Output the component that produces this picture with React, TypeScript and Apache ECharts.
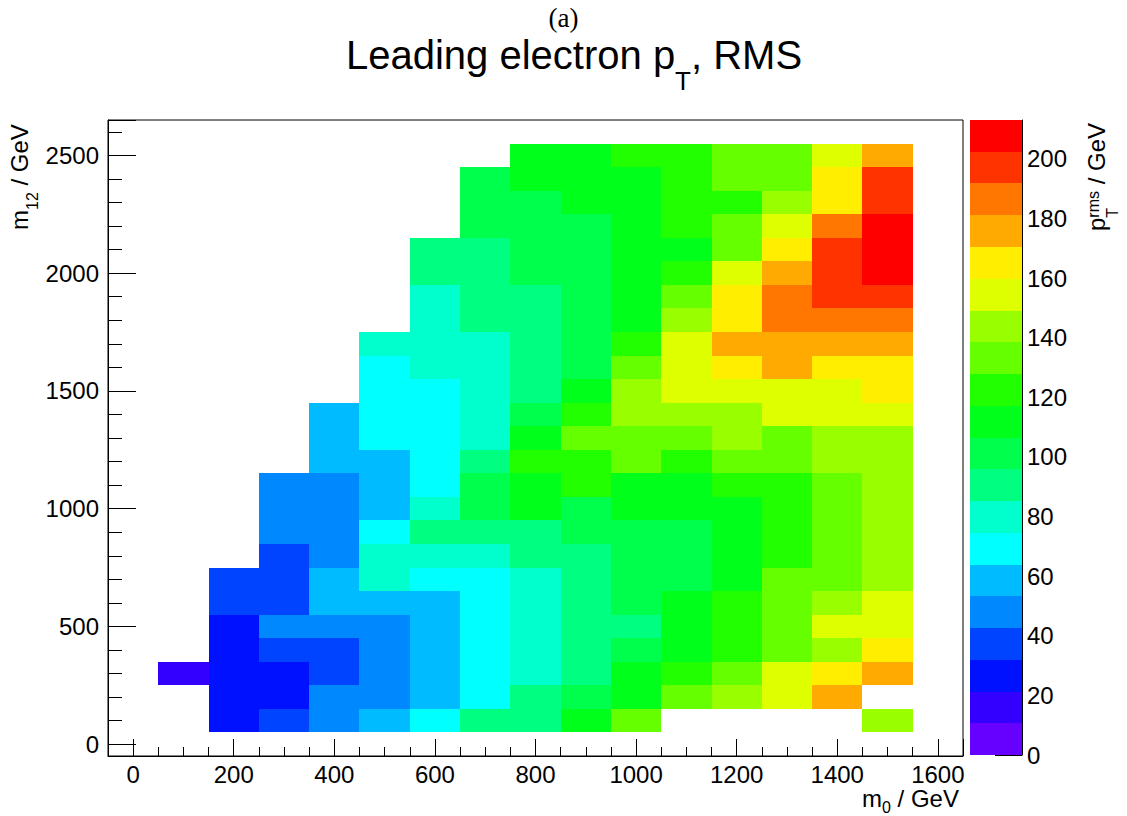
import React, { useEffect, useRef } from 'react';
import * as echarts from 'echarts';

// ---- data ----
// bin centres
const m0Centers = [100, 200, 300, 400, 500, 600, 700, 800, 900, 1000, 1100, 1200, 1300, 1400, 1500];
const m12Centers = [100, 200, 300, 400, 500, 600, 700, 800, 900, 1000, 1100, 1200, 1300, 1400, 1500, 1600, 1700, 1800, 1900, 2000, 2100, 2200, 2300, 2400, 2500];
const BIN_M0 = 100;
const BIN_M12 = 100;

// leading electron pT RMS [GeV]; one row per m12 bin (bottom -> top), one entry per m0 bin
const rms100 = [null, 27, 38, 47, 58, 70, 91, 89, 113, 134, null, null, null, null, 143];
const rms200 = [null, 26, 29, 49, 51, 60, 68, 92, 102, 110, 132, 145, 155, 177, null];
const rms300 = [15, 25, 28, 39, 50, 57, 71, 81, 88, 114, 123, 135, 153, 166, 175];
const rms400 = [null, 24, 36, 40, 47, 61, 67, 79, 90, 100, 111, 121, 131, 146, 164];
const rms500 = [null, 28, 46, 49, 52, 58, 70, 78, 93, 87, 115, 125, 136, 152, 157];
const rms600 = [null, 34, 38, 56, 60, 62, 72, 82, 89, 104, 109, 120, 130, 141, 158];
const rms700 = [null, 36, 41, 55, 77, 66, 73, 84, 91, 99, 103, 116, 134, 137, 147];
const rms800 = [null, null, 39, 45, 76, 79, 83, 94, 86, 98, 105, 113, 119, 129, 142];
const rms900 = [null, null, 44, 50, 68, 92, 88, 95, 97, 104, 101, 110, 124, 132, 144];
const rms1000 = [null, null, 47, 52, 62, 81, 100, 108, 103, 116, 112, 114, 126, 133, 148];
const rms1100 = [null, null, 45, 51, 57, 73, 102, 111, 118, 108, 113, 121, 123, 135, 146];
const rms1200 = [null, null, null, 55, 60, 69, 90, 126, 120, 130, 125, 137, 135, 140, 143];
const rms1300 = [null, null, null, 59, 67, 70, 78, 110, 131, 133, 129, 142, 134, 145, 147];
const rms1400 = [null, null, null, 61, 71, 65, 82, 99, 119, 142, 145, 147, 152, 156, 158];
const rms1500 = [null, null, null, null, 72, 70, 80, 93, 114, 148, 151, 155, 159, 153, 163];
const rms1600 = [null, null, null, null, 66, 77, 82, 87, 105, 131, 157, 161, 172, 167, 169];
const rms1700 = [null, null, null, null, 79, 83, 76, 92, 99, 125, 152, 178, 174, 180, 179];
const rms1800 = [null, null, null, null, null, 80, 86, 94, 100, 109, 143, 162, 183, 188, 190];
const rms1900 = [null, null, null, null, null, 84, 89, 91, 98, 115, 136, 168, 185, 193, 199];
const rms2000 = [null, null, null, null, null, 88, 92, 97, 103, 112, 122, 156, 173, 196, 211];
const rms2100 = [null, null, null, null, null, 93, 90, 101, 105, 116, 110, 132, 163, 198, 209];
const rms2200 = [null, null, null, null, null, null, 99, 104, 102, 114, 124, 136, 154, 187, 206];
const rms2300 = [null, null, null, null, null, null, 101, 100, 111, 109, 119, 123, 141, 166, 200];
const rms2400 = [null, null, null, null, null, null, 103, 112, 113, 115, 124, 134, 130, 169, 194];
const rms2500 = [null, null, null, null, null, null, null, 110, 114, 118, 121, 131, 137, 157, 174];

const rmsRows: (number | null)[][] = [
  rms100, rms200, rms300, rms400, rms500, rms600, rms700, rms800, rms900, rms1000,
  rms1100, rms1200, rms1300, rms1400, rms1500, rms1600, rms1700, rms1800, rms1900, rms2000,
  rms2100, rms2200, rms2300, rms2400, rms2500,
];

// colour scale
const Z_MIN = 0;
const Z_MAX = 213;
const paletteColors = [
  '#6600ff', '#3300ff', '#0011ff', '#0044ff', '#0088ff', '#00bbff', '#00ffff', '#00ffcc', '#00ff80', '#00ff4d',
  '#00ff1a', '#22ff00', '#66ff00', '#99ff00', '#ddff00', '#ffee00', '#ffaa00', '#ff7700', '#ff3300', '#ff0000',
];
const zTickValues = [0, 20, 40, 60, 80, 100, 120, 140, 160, 180, 200];

const FONT = '"Liberation Sans", Arial, Helvetica, sans-serif';
const SERIF = '"Liberation Serif", "DejaVu Serif", serif';

function txt(text: string, x: number, y: number, size: number, family = FONT): any {
  return {
    type: 'text',
    x,
    y,
    style: {
      text,
      fontSize: size,
      fontFamily: family,
      fill: '#000',
      align: 'left',
      verticalAlign: 'middle',
      textAlign: 'left',
      textVerticalAlign: 'middle',
    },
  };
}

function snapRect(p0: number[], p1: number[]) {
  const x0 = Math.round(Math.min(p0[0], p1[0]));
  const x1 = Math.round(Math.max(p0[0], p1[0]));
  const y0 = Math.round(Math.min(p0[1], p1[1]));
  const y1 = Math.round(Math.max(p0[1], p1[1]));
  return { x: x0, y: y0, width: x1 - x0, height: y1 - y0 };
}

export default function App() {
  const ref = useRef<HTMLDivElement>(null);

  useEffect(() => {
    if (!ref.current) return;
    const chart = echarts.init(ref.current, undefined, { renderer: 'svg' });

    const cells: number[][] = [];
    rmsRows.forEach((row, r) => {
      row.forEach((v, c) => {
        if (v !== null && v !== undefined) cells.push([m0Centers[c], m12Centers[r], v]);
      });
    });

    const nLev = paletteColors.length;
    const step = (Z_MAX - Z_MIN) / nLev;
    const levels = paletteColors.map((_, i) => [0.5, Z_MIN + i * step, Z_MIN + (i + 1) * step, i]);
    const pieces = paletteColors.map((color, i) => ({
      gte: Z_MIN + i * step,
      lt: i === nLev - 1 ? Z_MAX + 1000 : Z_MIN + (i + 1) * step,
      color,
    }));

    const axisLineStyle = { color: '#000', width: 1 };

    const option: any = {
      animation: false,
      backgroundColor: '#ffffff',
      grid: [
        {
          left: 108, top: 120, width: 855, height: 636,
          show: true, borderColor: '#000', borderWidth: 1, backgroundColor: 'transparent',
          containLabel: false, outerBoundsMode: 'none',
        },
        { left: 970, top: 120, width: 52, height: 635, containLabel: false, outerBoundsMode: 'none' },
      ],
      xAxis: [
        {
          type: 'value', gridIndex: 0, min: -50, max: 1650, splitNumber: 8, minInterval: 200, maxInterval: 200,
          axisLine: { show: true, onZero: false, lineStyle: axisLineStyle },
          axisTick: { show: true, inside: true, length: 17, lineStyle: axisLineStyle },
          minorTick: { show: true, splitNumber: 4, length: 9, lineStyle: axisLineStyle },
          axisLabel: {
            show: true, color: '#000', fontSize: 24, fontFamily: FONT, margin: 6, lineHeight: 24,
            formatter: (v: number) => (v % 200 === 0 ? String(v) : ''),
          },
          splitLine: { show: false },
          minorSplitLine: { show: false },
        },
        { type: 'value', gridIndex: 1, min: 0, max: 1, show: false },
      ],
      yAxis: [
        {
          type: 'value', gridIndex: 0, min: -50, max: 2650, splitNumber: 5, minInterval: 500, maxInterval: 500,
          axisLine: { show: true, onZero: false, lineStyle: axisLineStyle },
          axisTick: { show: true, inside: true, length: 28, lineStyle: axisLineStyle },
          minorTick: { show: true, splitNumber: 5, length: 14, lineStyle: axisLineStyle },
          axisLabel: {
            show: true, color: '#000', fontSize: 24, fontFamily: FONT, margin: 9,
            formatter: (v: number) => (v % 500 === 0 ? String(v) : ''),
          },
          splitLine: { show: false },
          minorSplitLine: { show: false },
        },
        {
          type: 'value', gridIndex: 1, position: 'right', min: Z_MIN, max: Z_MAX, interval: 20,
          axisLine: { show: true, onZero: false, lineStyle: axisLineStyle },
          axisTick: { show: true, inside: true, length: 27, customValues: zTickValues, lineStyle: axisLineStyle },
          axisLabel: {
            show: true, color: '#000', fontSize: 24, fontFamily: FONT, margin: 5, customValues: zTickValues,
          },
          splitLine: { show: false },
        },
      ],
      visualMap: {
        type: 'piecewise', show: false, seriesIndex: 0, dimension: 2, pieces,
      },
      series: [
        {
          type: 'custom',
          xAxisIndex: 0,
          yAxisIndex: 0,
          data: cells,
          encode: { x: 0, y: 1 },
          renderItem: (_params: any, api: any) => {
            const x = api.value(0);
            const y = api.value(1);
            const p0 = api.coord([x - BIN_M0 / 2, y - BIN_M12 / 2]);
            const p1 = api.coord([x + BIN_M0 / 2, y + BIN_M12 / 2]);
            const color = api.visual('color');
            return {
              type: 'rect',
              shape: snapRect(p0, p1),
              style: { fill: color },
            };
          },
          z: 1,
        },
        {
          type: 'custom',
          xAxisIndex: 1,
          yAxisIndex: 1,
          data: levels,
          encode: { x: 0, y: [1, 2] },
          renderItem: (_params: any, api: any) => {
            const lo = api.value(1);
            const hi = api.value(2);
            const idx = api.value(3);
            const p0 = api.coord([0, lo]);
            const p1 = api.coord([1, hi]);
            return {
              type: 'rect',
              shape: snapRect(p0, p1),
              style: { fill: paletteColors[idx] },
            };
          },
          z: 1,
        },
      ],
      graphic: [
        {
          type: 'text', x: 563.5, y: 18,
          style: {
            text: '(a)', fontSize: 27, fontFamily: SERIF, fill: '#000',
            align: 'center', verticalAlign: 'middle', textAlign: 'center', textVerticalAlign: 'middle',
          },
        },
        {
          type: 'group', x: 346, y: 55,
          children: [
            txt('Leading electron p', 0, 0, 40),
            txt('T', 329, 26, 26),
            txt(', RMS', 345, 0, 40),
          ],
        },
        {
          type: 'group', x: 19, y: 230, rotation: Math.PI / 2,
          children: [
            txt('m', 0, 0, 24),
            txt('12', 20, 13, 16),
            txt('/ GeV', 44.5, 0, 24),
          ],
        },
        {
          type: 'group', x: 862, y: 798,
          children: [
            txt('m', 0, 0, 24),
            txt('0', 20, 9.5, 16),
            txt('/ GeV', 35.6, 0, 24),
          ],
        },
        {
          type: 'group', x: 1096.5, y: 231, rotation: Math.PI / 2,
          children: [
            txt('p', 0, 0, 24),
            txt('rms', 13.3, -3.5, 16),
            txt('T', 13.3, 15.5, 16),
            txt('/ GeV', 46.7, 0, 24),
          ],
        },
      ],
    };

    chart.setOption(option);
    return () => {
      chart.dispose();
    };
  }, []);

  return (
    <div
      ref={ref}
      style={{ position: 'fixed', left: 0, top: 0, width: 1127, height: 816, overflow: 'hidden', background: '#fff' }}
    />
  );
}
